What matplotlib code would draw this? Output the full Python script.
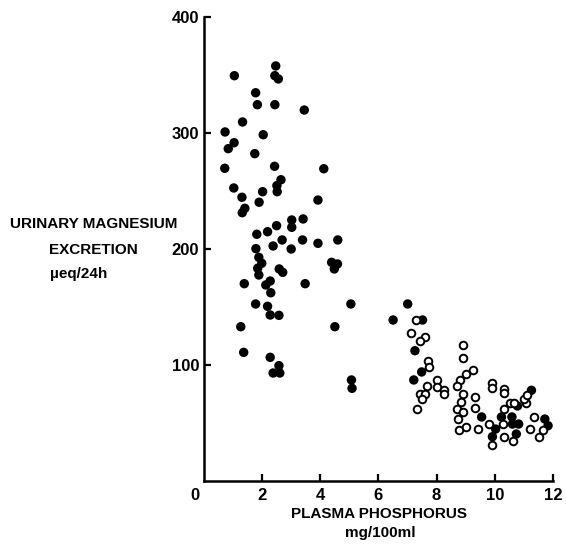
import matplotlib
matplotlib.use("Agg")
import matplotlib.pyplot as plt
import matplotlib.transforms as mtransforms
import numpy as np

# filled circles
filled_x = [2.48, 1.06, 2.45, 2.57, 1.79, 1.85, 2.45, 3.46, 1.34, 0.74,
            2.05, 1.05, 0.85, 1.76, 0.73, 2.44, 4.13, 2.66, 2.52, 2.53,
            1.04, 2.03, 1.32, 1.91, 3.93, 1.42, 1.33, 3.03, 3.42, 2.51,
            3.03, 2.20, 1.83, 2.70, 3.40, 3.93, 4.61, 2.39, 1.80, 3.01,
            1.90, 2.00, 1.86, 1.90, 2.60, 2.72, 4.40, 4.60, 4.49, 1.40,
            2.29, 2.14, 2.31, 3.49, 1.79, 2.20, 5.06, 2.29, 2.59, 1.28,
            4.51, 1.38, 2.29, 2.59, 2.39, 2.62, 5.08, 5.10, 7.01, 6.51,
            7.52, 7.26, 7.49, 7.22, 9.55, 10.03, 9.92, 10.23, 10.59, 10.61,
            10.82, 10.74, 10.78, 11.26, 11.72, 11.83]
filled_y = [357.8, 349.4, 349.4, 346.6, 334.7, 324.4, 324.4, 319.8, 309.5, 300.9,
            298.5, 291.6, 286.5, 282.2, 269.6, 271.3, 269.2, 259.7, 254.6, 249.4,
            252.6, 249.4, 244.6, 240.3, 242.2, 235.1, 231.3, 225.0, 225.9, 220.1,
            218.7, 214.9, 212.7, 207.8, 207.8, 204.9, 207.8, 202.6, 200.3, 200.0,
            192.8, 187.7, 183.4, 177.6, 182.8, 179.9, 188.5, 187.1, 182.8, 170.1,
            172.4, 169.0, 162.3, 170.1, 152.6, 150.6, 152.6, 143.1, 142.8, 133.0,
            133.0, 110.9, 106.6, 99.4, 93.1, 93.1, 87.1, 79.9, 152.6, 138.8,
            138.8, 112.3, 94.0, 87.1, 55.2, 44.8, 38.2, 55.2, 55.2, 49.1,
            49.1, 40.5, 64.7, 78.2, 53.4, 47.7]

# open circles
open_x = [7.31, 7.11, 7.62, 7.43, 7.70, 7.73, 8.91, 8.91, 9.25, 9.01,
          8.80, 8.69, 8.01, 8.01, 8.25, 8.25, 7.67, 7.42, 7.62, 7.51,
          7.32, 8.91, 8.83, 8.71, 8.91, 8.73, 8.76, 9.03, 9.31, 9.31,
          9.41, 9.80, 9.92, 9.92, 10.31, 10.31, 10.31, 10.28, 10.32, 9.92,
          10.51, 10.65, 10.63, 11.09, 11.01, 11.12, 11.34, 11.21, 11.51, 11.67]
open_y = [138.8, 127.3, 124.4, 120.7, 103.7, 98.0, 117.0, 105.8, 95.4, 92.2,
          87.1, 81.9, 87.1, 80.8, 78.4, 74.7, 81.9, 75.0, 75.0, 70.4,
          62.3, 74.7, 68.1, 62.3, 59.7, 53.7, 43.7, 46.8, 72.4, 62.7,
          44.8, 49.4, 84.7, 80.4, 79.6, 75.6, 62.3, 49.4, 38.2, 31.0,
          67.5, 67.5, 34.2, 67.5, 70.4, 74.1, 55.2, 44.8, 38.2, 43.7]

x_ticks = [0, 2, 4, 6, 8, 10, 12]
y_ticks = [100, 200, 300, 400]

plt.rcParams['font.family'] = ['Liberation Sans', 'DejaVu Sans']
plt.rcParams['font.weight'] = 'bold'

W, H = 566, 546
fig = plt.figure(figsize=(W / 100, H / 100), dpi=100)
ax = fig.add_axes([203.5 / W, 1 - 481 / H, 349.5 / W, 464 / H])

ax.scatter(filled_x, filled_y, s=46, c='black', edgecolors='none', zorder=3)
ax.scatter(open_x, open_y, s=30, facecolors='white', edgecolors='black',
           linewidths=1.4, zorder=3)

ax.set_xlim(0, 12)
ax.set_ylim(0, 400)
ax.spines['top'].set_visible(False)
ax.spines['right'].set_visible(False)
for s in ['left', 'bottom']:
    ax.spines[s].set_linewidth(1.8)

ax.set_xticks(x_ticks)
ax.set_yticks(y_ticks)
ax.set_xticklabels([str(t) for t in x_ticks], fontsize=12, fontweight='bold')
ax.set_yticklabels([str(t) for t in y_ticks], fontsize=12, fontweight='bold')
ax.tick_params(axis='x', direction='in', length=5, width=1.6, pad=5)
ax.tick_params(axis='y', direction='in', length=5, width=1.6, pad=3)

# the "0" sits just left of the origin
lbl0 = ax.get_xticklabels()[0]
lbl0.set_transform(lbl0.get_transform() +
                   mtransforms.ScaledTranslation(-9 / 100, 0, fig.dpi_scale_trans))
ax.xaxis.get_major_ticks()[0].tick1line.set_visible(False)

fig.text(379 / W, 1 - 514 / H, 'PLASMA PHOSPHORUS', ha='center', va='center',
         fontsize=11, fontweight='bold')
fig.text(380 / W, 1 - 533 / H, 'mg/100ml', ha='center', va='center',
         fontsize=11, fontweight='bold')

fig.text(94 / W, 1 - 224 / H, 'URINARY MAGNESIUM', ha='center', va='center',
         fontsize=11, fontweight='bold')
fig.text(93.5 / W, 1 - 250 / H, 'EXCRETION', ha='center', va='center',
         fontsize=11, fontweight='bold')
fig.text(50 / W, 1 - 274 / H, 'µeq/24h', ha='left', va='center',
         fontsize=11, fontweight='bold')

fig.savefig('out.png', dpi=100)
